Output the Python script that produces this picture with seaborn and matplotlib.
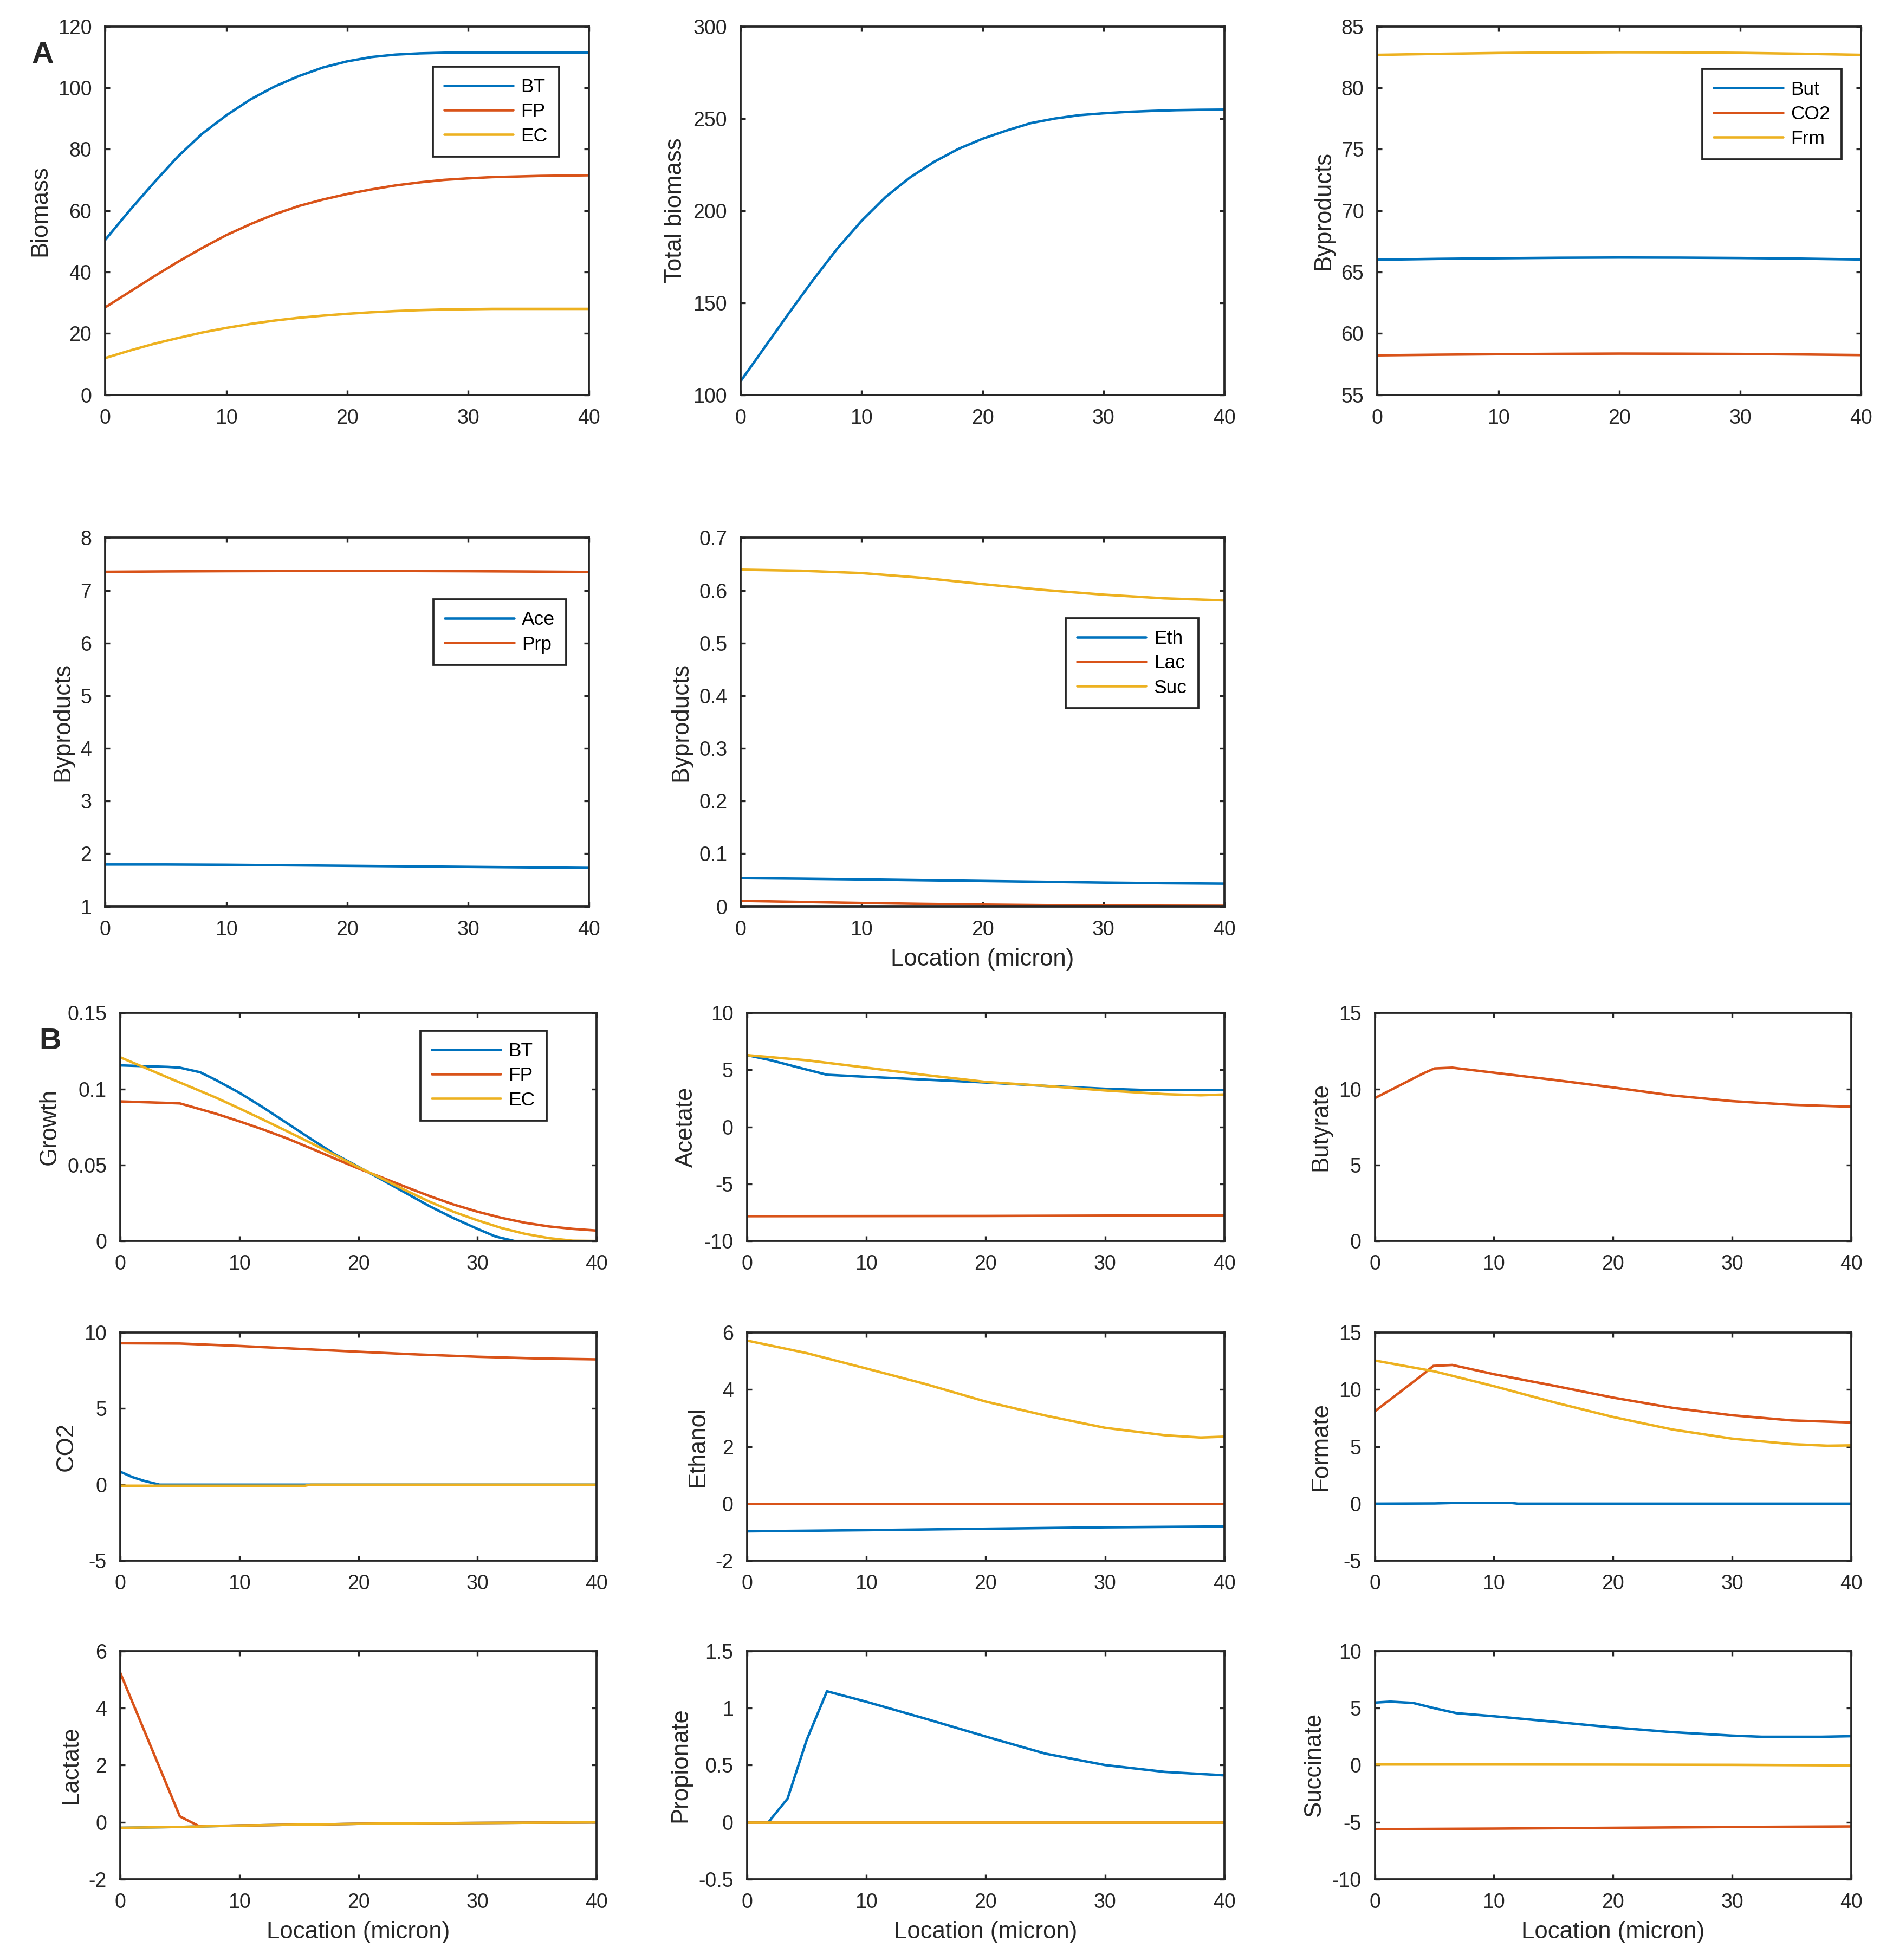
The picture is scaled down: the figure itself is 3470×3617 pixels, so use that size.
import matplotlib
matplotlib.use("Agg")
import matplotlib.pyplot as plt
from matplotlib.ticker import FormatStrFormatter
import seaborn as sns

BLUE, ORANGE, YELLOW = "#0072BD", "#D95319", "#EDB120"
DARK = "#262626"

# ---- panel A: biomass and byproducts along the location ----
X_A = [0, 2, 4, 6, 8, 10, 12, 14, 16, 18, 20, 22, 24, 26, 28, 30, 32, 34, 36, 38, 40]
BIOMASS_BT = [50.5, 60, 69, 77.6, 85, 91, 96.2, 100.4, 103.8, 106.6, 108.6, 110, 110.8,
              111.2, 111.4, 111.5, 111.5, 111.5, 111.5, 111.5, 111.5]
BIOMASS_FP = [28.5, 33.5, 38.5, 43.3, 47.8, 52, 55.6, 58.8, 61.5, 63.6, 65.4, 66.9, 68.2,
              69.2, 70, 70.5, 70.9, 71.1, 71.3, 71.4, 71.5]
BIOMASS_EC = [12, 14.4, 16.6, 18.5, 20.3, 21.8, 23.1, 24.2, 25.1, 25.8, 26.4, 26.9, 27.3,
              27.6, 27.8, 27.9, 28, 28, 28, 28, 28]
TOTAL_BIOMASS = [107.5, 126, 144.5, 162.5, 179.5, 194.5, 207.5, 218, 226.5, 233.5, 239, 243.5,
                 247.5, 250, 251.8, 252.8, 253.6, 254.1, 254.5, 254.7, 254.8]

X_BY = [0, 5, 10, 15, 20, 25, 30, 35, 40]
BUT = [66.0, 66.07, 66.12, 66.16, 66.18, 66.17, 66.14, 66.09, 66.02]
CO2 = [58.22, 58.27, 58.31, 58.34, 58.36, 58.35, 58.33, 58.29, 58.24]
FRM = [82.68, 82.76, 82.83, 82.87, 82.89, 82.88, 82.84, 82.77, 82.68]
ACE = [1.795, 1.795, 1.79, 1.78, 1.77, 1.76, 1.75, 1.74, 1.73]
PRP = [7.355, 7.362, 7.367, 7.37, 7.372, 7.37, 7.366, 7.36, 7.352]
ETH = [0.0535, 0.0525, 0.0512, 0.0497, 0.0482, 0.0467, 0.0452, 0.0440, 0.0432]
LAC = [0.0105, 0.0085, 0.0065, 0.0048, 0.0034, 0.0024, 0.0017, 0.0013, 0.0011]
SUC = [0.6395, 0.6375, 0.633, 0.624, 0.612, 0.601, 0.592, 0.585, 0.581]

# ---- panel B: growth and exchange fluxes per species ----
GROWTH_BT_X = [0, 2, 4, 5, 6.7, 8, 10, 12, 14, 16, 18, 20, 22, 24, 26, 28, 30, 31.5, 33.1, 40]
GROWTH_BT = [0.1155, 0.1150, 0.1145, 0.1140, 0.1110, 0.1060, 0.0975, 0.0878, 0.0775, 0.0672,
             0.0572, 0.0488, 0.0402, 0.0315, 0.0228, 0.0150, 0.0080, 0.0030, 0.0, 0.0]
GROWTH_FP_X = [0, 2, 4, 5, 6.7, 8, 10, 12, 14, 16, 18, 20, 22, 24, 26, 28, 30, 32, 34, 36, 38, 40]
GROWTH_FP = [0.0918, 0.0913, 0.0908, 0.0905, 0.0867, 0.0838, 0.0787, 0.0733, 0.0675, 0.0610,
             0.0543, 0.0477, 0.0417, 0.0355, 0.0295, 0.0240, 0.0193, 0.0153, 0.0120, 0.0096,
             0.0080, 0.0069]
GROWTH_EC = [0.1208, 0.1142, 0.1075, 0.1010, 0.0944, 0.0872, 0.0798, 0.0722, 0.0645, 0.0566,
             0.0485, 0.0410, 0.0332, 0.0258, 0.0192, 0.0136, 0.0086, 0.0047, 0.0019, 0.0002, 0.0]

ACE_BT_X = [0, 2, 4, 6.7, 10, 15, 20, 25, 30, 33, 40]
ACE_BT = [6.3, 5.85, 5.3, 4.58, 4.4, 4.15, 3.9, 3.6, 3.35, 3.25, 3.25]
ACE_FP_X = [0, 10, 20, 30, 40]
ACE_FP = [-7.82, -7.81, -7.8, -7.77, -7.76]
ACE_EC_X = [0, 5, 10, 15, 20, 25, 30, 35, 38, 40]
ACE_EC = [6.3, 5.85, 5.2, 4.55, 3.95, 3.6, 3.2, 2.88, 2.78, 2.85]

FLAT_X = [0, 40]
FLAT_ZERO = [0, 0]

BUT_FP_X = [0, 2, 4, 5, 6.5, 10, 15, 20, 25, 30, 35, 40]
BUT_FP = [9.4, 10.2, 11.0, 11.35, 11.4, 11.07, 10.6, 10.1, 9.57, 9.2, 8.96, 8.83]

CO2_BT_X = [0, 1, 2, 3.3, 40]
CO2_BT = [0.85, 0.5, 0.25, 0.0, 0.0]
CO2_FP_X = [0, 5, 10, 15, 20, 25, 30, 35, 40]
CO2_FP = [9.3, 9.28, 9.12, 8.93, 8.74, 8.56, 8.41, 8.3, 8.24]
CO2_EC_X = [0, 15.5, 16, 40]
CO2_EC = [-0.07, -0.07, 0.0, 0.0]

ETH_BT_X = [0, 10, 20, 30, 40]
ETH_BT = [-0.97, -0.93, -0.88, -0.83, -0.8]
ETH_EC_X = [0, 5, 10, 15, 20, 25, 30, 35, 38, 40]
ETH_EC = [5.72, 5.28, 4.74, 4.19, 3.58, 3.09, 2.66, 2.40, 2.32, 2.35]

FRM_BT_X = [0, 5, 6.5, 11.5, 12, 40]
FRM_BT = [0, 0.02, 0.06, 0.06, 0, 0]
FRM_FP_X = [0, 2, 4, 4.9, 6.5, 10, 15, 20, 25, 30, 35, 40]
FRM_FP = [8.1, 9.7, 11.3, 12.08, 12.16, 11.35, 10.35, 9.3, 8.4, 7.75, 7.3, 7.12]
FRM_EC_X = [0, 5, 10, 15, 20, 25, 30, 35, 38, 40]
FRM_EC = [12.55, 11.6, 10.3, 8.9, 7.6, 6.5, 5.7, 5.22, 5.08, 5.11]

LAC_FP_X = [0, 5, 6.6, 10, 15, 20, 25, 30, 40]
LAC_FP = [5.23, 0.2, -0.14, -0.12, -0.09, -0.06, -0.04, -0.03, -0.01]
LAC_EC_X = [0, 5, 10, 15, 20, 25, 30, 40]
LAC_EC = [-0.2, -0.17, -0.12, -0.09, -0.06, -0.04, -0.03, -0.01]

PRP_BT_X = [0, 1.8, 3.4, 5, 6.7, 10, 15, 20, 25, 30, 35, 40]
PRP_BT = [0, 0, 0.206, 0.72, 1.147, 1.055, 0.905, 0.75, 0.6, 0.5, 0.44, 0.41]

SUC_BT_X = [0, 1.3, 3.2, 5, 6.85, 10, 15, 20, 25, 30, 32.5, 37.5, 40]
SUC_BT = [5.48, 5.56, 5.45, 4.98, 4.55, 4.28, 3.8, 3.3, 2.88, 2.58, 2.48, 2.48, 2.53]
SUC_FP_X = [0, 10, 20, 30, 40]
SUC_FP = [-5.62, -5.57, -5.5, -5.43, -5.38]
SUC_EC = [0.05, 0.05, 0.04, 0.02, -0.03]


sns.set_theme(style="ticks")
plt.rcParams["font.family"] = ["Liberation Sans", "DejaVu Sans"]
plt.rcParams["axes.unicode_minus"] = False

W, H = 1500.0, 1563.5
fig = plt.figure(figsize=(3470 / 300, 3617 / 300), dpi=300)


def rect(x0, y0, x1, y1):
    return [x0 / W, 1 - y1 / H, (x1 - x0) / W, (y1 - y0) / H]


def panel(box, series, ylim, yticks, ylabel, fmt=None, xlabel=None, legend=None):
    ax = fig.add_axes(rect(*box))
    for xs, ys, color, name in series:
        sns.lineplot(x=xs, y=ys, color=color, linewidth=1.1, ax=ax,
                     label=name, estimator=None)
    ax.set_xlim(0, 40)
    ax.set_xticks([0, 10, 20, 30, 40])
    ax.set_ylim(*ylim)
    ax.set_yticks(yticks)
    if fmt:
        ax.yaxis.set_major_formatter(FormatStrFormatter(fmt))
    ax.set_ylabel(ylabel, fontsize=10.5, color=DARK, labelpad=3)
    ax.set_xlabel(xlabel or "", fontsize=10.5, color=DARK, labelpad=4)
    ax.tick_params(direction="in", top=True, right=True, length=2.2, width=0.8,
                   labelsize=9, colors=DARK, pad=6)
    for sp in ax.spines.values():
        sp.set_visible(True)
        sp.set_linewidth(0.9)
        sp.set_color(DARK)
    if legend:
        leg = ax.legend(loc="upper right", bbox_to_anchor=legend, fontsize=8.5,
                        handlelength=3.6, frameon=True, fancybox=False,
                        framealpha=1, edgecolor=DARK, borderpad=0.6,
                        labelspacing=0.35, handletextpad=0.4, borderaxespad=0)
        leg.get_frame().set_linewidth(0.9)
        for t in leg.get_texts():
            t.set_color("black")
    elif ax.get_legend() is not None:
        ax.get_legend().remove()
    return ax


COL_A = [(84, 470), (591, 977), (1099, 1485)]
COL_B = [(96, 476), (596, 977), (1097, 1477)]
ROW_A = [(21, 315), (429, 723)]
ROW_B = [(808, 990), (1063, 1245), (1317, 1499)]
LOC = "Location (micron)"


def box(cols, rows, c, r):
    return (cols[c][0], rows[r][0], cols[c][1], rows[r][1])


panel(box(COL_A, ROW_A, 0, 0),
      [(X_A, BIOMASS_BT, BLUE, "BT"), (X_A, BIOMASS_FP, ORANGE, "FP"),
       (X_A, BIOMASS_EC, YELLOW, "EC")],
      (0, 120), range(0, 121, 20), "Biomass", legend=(0.938, 0.891))
panel(box(COL_A, ROW_A, 1, 0), [(X_A, TOTAL_BIOMASS, BLUE, None)],
      (100, 300), range(100, 301, 50), "Total biomass")
panel(box(COL_A, ROW_A, 2, 0),
      [(X_BY, BUT, BLUE, "But"), (X_BY, CO2, ORANGE, "CO2"), (X_BY, FRM, YELLOW, "Frm")],
      (55, 85), range(55, 86, 5), "Byproducts", legend=(0.959, 0.884))
panel(box(COL_A, ROW_A, 0, 1),
      [(X_BY, ACE, BLUE, "Ace"), (X_BY, PRP, ORANGE, "Prp")],
      (1, 8), range(1, 9), "Byproducts", legend=(0.953, 0.833))
panel(box(COL_A, ROW_A, 1, 1),
      [(X_BY, ETH, BLUE, "Eth"), (X_BY, LAC, ORANGE, "Lac"), (X_BY, SUC, YELLOW, "Suc")],
      (0, 0.7), [0, 0.1, 0.2, 0.3, 0.4, 0.5, 0.6, 0.7], "Byproducts", fmt="%g",
      xlabel=LOC, legend=(0.946, 0.782))

panel(box(COL_B, ROW_B, 0, 0),
      [(GROWTH_BT_X, GROWTH_BT, BLUE, "BT"), (GROWTH_FP_X, GROWTH_FP, ORANGE, "FP"),
       (X_A, GROWTH_EC, YELLOW, "EC")],
      (0, 0.15), [0, 0.05, 0.1, 0.15], "Growth", fmt="%g", legend=(0.895, 0.923))
panel(box(COL_B, ROW_B, 1, 0),
      [(ACE_BT_X, ACE_BT, BLUE, None), (ACE_FP_X, ACE_FP, ORANGE, None),
       (ACE_EC_X, ACE_EC, YELLOW, None)],
      (-10, 10), range(-10, 11, 5), "Acetate")
panel(box(COL_B, ROW_B, 2, 0),
      [(FLAT_X, FLAT_ZERO, BLUE, None), (BUT_FP_X, BUT_FP, ORANGE, None),
       (FLAT_X, FLAT_ZERO, YELLOW, None)],
      (0, 15), range(0, 16, 5), "Butyrate")
panel(box(COL_B, ROW_B, 0, 1),
      [(CO2_BT_X, CO2_BT, BLUE, None), (CO2_FP_X, CO2_FP, ORANGE, None),
       (CO2_EC_X, CO2_EC, YELLOW, None)],
      (-5, 10), range(-5, 11, 5), "CO2")
panel(box(COL_B, ROW_B, 1, 1),
      [(ETH_BT_X, ETH_BT, BLUE, None), (FLAT_X, FLAT_ZERO, ORANGE, None),
       (ETH_EC_X, ETH_EC, YELLOW, None)],
      (-2, 6), range(-2, 7, 2), "Ethanol")
panel(box(COL_B, ROW_B, 2, 1),
      [(FRM_BT_X, FRM_BT, BLUE, None), (FRM_FP_X, FRM_FP, ORANGE, None),
       (FRM_EC_X, FRM_EC, YELLOW, None)],
      (-5, 15), range(-5, 16, 5), "Formate")
panel(box(COL_B, ROW_B, 0, 2),
      [(LAC_EC_X, LAC_EC, BLUE, None), (LAC_FP_X, LAC_FP, ORANGE, None),
       (LAC_EC_X, LAC_EC, YELLOW, None)],
      (-2, 6), range(-2, 7, 2), "Lactate", xlabel=LOC)
panel(box(COL_B, ROW_B, 1, 2),
      [(PRP_BT_X, PRP_BT, BLUE, None), (FLAT_X, FLAT_ZERO, ORANGE, None),
       (FLAT_X, FLAT_ZERO, YELLOW, None)],
      (-0.5, 1.5), [-0.5, 0, 0.5, 1, 1.5], "Propionate", fmt="%g", xlabel=LOC)
panel(box(COL_B, ROW_B, 2, 2),
      [(SUC_BT_X, SUC_BT, BLUE, None), (SUC_FP_X, SUC_FP, ORANGE, None),
       (SUC_FP_X, SUC_EC, YELLOW, None)],
      (-10, 10), range(-10, 11, 5), "Succinate", xlabel=LOC)

fig.text(34 / W, 1 - 44 / H, "A", fontsize=13.5, fontweight="bold", ha="center", va="center")
fig.text(40 / W, 1 - 831 / H, "B", fontsize=13.5, fontweight="bold", ha="center", va="center")

fig.savefig("out.png", dpi=300)
